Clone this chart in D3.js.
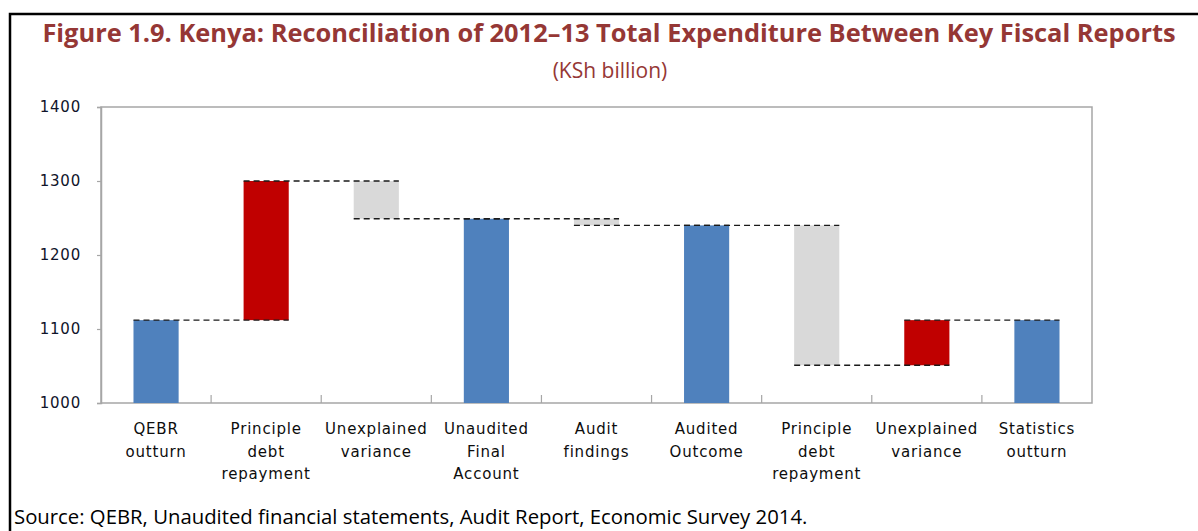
<!DOCTYPE html>
<html>
<head>
<meta charset="utf-8">
<script src="https://cdn.jsdelivr.net/npm/d3@7"></script>
<style>
  html, body { margin: 0; padding: 0; background: #fff; }
  svg { display: block; }
</style>
</head>
<body>
<svg id="chart" width="1198" height="531"></svg>
<script>
const title = "Figure 1.9. Kenya: Reconciliation of 2012\u201313 Total Expenditure Between Key Fiscal Reports";
const subtitle = "(KSh billion)";
const source = "Source: QEBR, Unaudited financial statements, Audit Report, Economic Survey 2014.";

const categories = [
  ["QEBR", "outturn"],
  ["Principle", "debt", "repayment"],
  ["Unexplained", "variance"],
  ["Unaudited", "Final", "Account"],
  ["Audit", "findings"],
  ["Audited", "Outcome"],
  ["Principle", "debt", "repayment"],
  ["Unexplained", "variance"],
  ["Statistics", "outturn"]
];
// totals are absolute levels, others are changes
const values = [1112, 188, -51, 1249, -9, 1240, -189, 61, 1112];
const kinds = ["total", "increase", "decrease", "total", "decrease", "total", "decrease", "increase", "total"];
const yTicks = [1000, 1100, 1200, 1300, 1400];

const colors = { total: "#4F81BD", increase: "#C00000", decrease: "#D9D9D9" };

const svg = d3.select("#chart");
const W = 1198, H = 531;
const plot = { left: 101, right: 1092, top: 107, bottom: 403 };

// outer frame
svg.append("path")
  .attr("d", `M10,${H + 2} L10,14 L${W + 2},14`)
  .attr("fill", "none").attr("stroke", "#000").attr("stroke-width", 2.5);

function fitText(sel, target) {
  const len = sel.node().getComputedTextLength();
  const fs = parseFloat(sel.attr("font-size"));
  sel.attr("font-size", fs * target / len);
}
const t = svg.append("text").text(title)
  .attr("x", 609).attr("y", 42).attr("text-anchor", "middle")
  .attr("font-family", "'Open Sans', sans-serif").attr("font-weight", 700)
  .attr("font-size", 22).attr("fill", "#953735");
fitText(t, 1134);
svg.append("text").text(subtitle)
  .attr("x", 610).attr("y", 78).attr("text-anchor", "middle")
  .attr("font-family", "'Open Sans', sans-serif")
  .attr("font-size", 21).attr("fill", "#953735");

// scales
const x = d3.scaleBand().domain(d3.range(categories.length))
  .range([plot.left, plot.right]).paddingInner(0.59).paddingOuter(0.295);
const y = d3.scaleLinear().domain([1000, 1400]).range([plot.bottom, plot.top]);

// compute bars
let running = 0;
const bars = values.map((v, i) => {
  let lo, hi;
  if (kinds[i] === "total") { lo = 1000; hi = v; running = v; }
  else { const prev = running; running = prev + v; lo = Math.min(prev, running); hi = Math.max(prev, running); }
  return { i, lo, hi, end: running, kind: kinds[i] };
});

// plot frame
svg.append("rect")
  .attr("x", plot.left).attr("y", plot.top)
  .attr("width", plot.right - plot.left).attr("height", plot.bottom - plot.top)
  .attr("fill", "none").attr("stroke", "#A6A6A6").attr("stroke-width", 1.5);

// bars
svg.append("g").selectAll("rect").data(bars).join("rect")
  .attr("x", d => x(d.i)).attr("width", x.bandwidth())
  .attr("y", d => y(d.hi)).attr("height", d => y(d.lo) - y(d.hi))
  .attr("fill", d => colors[d.kind]);

// connectors
const conns = bars.slice(0, -1).map((d, k) => ({ level: d.end, a: d.i, b: bars[k + 1].i }));
svg.append("g").selectAll("line").data(conns).join("line")
  .attr("x1", d => x(d.a)).attr("x2", d => x(d.b) + x.bandwidth())
  .attr("y1", d => y(d.level)).attr("y2", d => y(d.level))
  .attr("stroke", "#1a1a1a").attr("stroke-width", 1.3).attr("stroke-dasharray", "6,4");

// y axis
const yAxis = svg.append("g").attr("transform", `translate(${plot.left},0)`)
  .call(d3.axisLeft(y).tickValues(yTicks).tickSize(4).tickPadding(16).tickFormat(d3.format("d")));
yAxis.select(".domain").attr("stroke", "#A6A6A6").attr("stroke-width", 1.5);
yAxis.selectAll(".tick line").attr("stroke", "#A6A6A6").attr("stroke-width", 1.2);
yAxis.selectAll(".tick text")
  .attr("font-family", "'DejaVu Sans', Verdana, sans-serif").attr("font-size", 15)
  .attr("letter-spacing", "0.8px").attr("fill", "#10142a");

// x category separators
const step = x.step();
const seps = d3.range(1, categories.length).map(i => x(i) - (step - x.bandwidth()) / 2);
svg.append("g").selectAll("line").data(seps).join("line")
  .attr("x1", d => d).attr("x2", d => d)
  .attr("y1", plot.bottom).attr("y2", plot.bottom - 8)
  .attr("stroke", "#A6A6A6").attr("stroke-width", 1.2);

// category labels
const lab = svg.append("g").selectAll("text").data(categories).join("text")
  .attr("x", (d, i) => x(i) + x.bandwidth() / 2)
  .attr("text-anchor", "middle")
  .attr("font-family", "'DejaVu Sans', Verdana, sans-serif").attr("font-size", 15)
  .attr("letter-spacing", "0.8px").attr("fill", "#0d0d0d");
lab.selectAll("tspan").data(d => d).join("tspan")
  .attr("x", function () { return this.parentNode.getAttribute("x"); })
  .attr("y", (d, j) => 434 + j * 22.5)
  .text(d => d);

// source
const s = svg.append("text").text(source)
  .attr("x", 14).attr("y", 524)
  .attr("font-family", "'Open Sans', sans-serif").attr("font-size", 18).attr("fill", "#000");
fitText(s, 794);
</script>
</body>
</html>
